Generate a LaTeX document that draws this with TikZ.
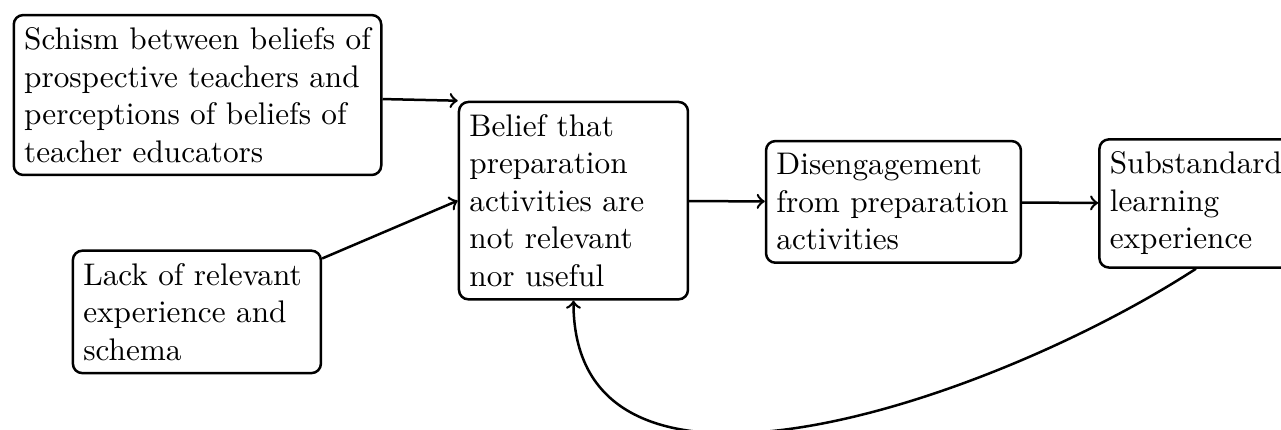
\documentclass[tikz,border=0pt]{standalone}
\begin{document}
\begin{tikzpicture}[
  box/.style={draw, thick, rounded corners=3pt, align=left, inner xsep=3.33pt, inner ysep=4pt},
  link/.style={thick, ->}
]
\useasboundingbox (0,0) rectangle (409.9pt,-137.28pt);

\node[box] (schism) at (63.2pt,-30.4pt)
  {Schism between beliefs of\\prospective teachers and\\perceptions of beliefs of\\teacher educators};
\node[box, text width=72.7pt] (lack) at (63.0pt,-99.8pt)
  {Lack of relevant\\experience and\\schema};
\node[box, text width=66.6pt] (belief) at (183.5pt,-64.2pt)
  {Belief that\\preparation\\activities are\\not relevant\\nor useful};
\node[box, text width=74.9pt] (diseng) at (285.9pt,-64.6pt)
  {Disengagement\\from preparation\\activities};
\node[box, anchor=west] (sub) at (351.4pt,-65.1pt)
  {Substandard\\learning\\experience};

\draw[link] (schism) -- (belief.north west);
\draw[link] (lack) -- (belief.west);
\draw[link] (belief) -- (diseng);
\draw[link] (diseng) -- (sub);
\draw[link] (sub.south) to[out=-147, in=-90] (belief.south);
\end{tikzpicture}
\end{document}
